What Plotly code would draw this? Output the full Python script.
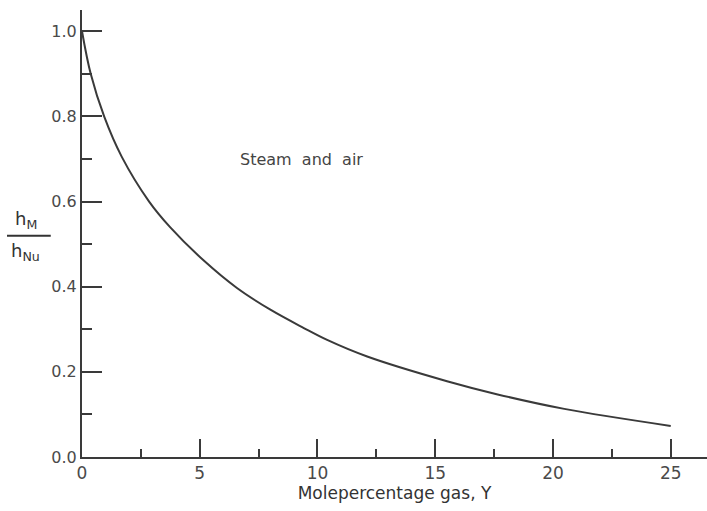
import plotly.graph_objects as go

# Data
mole_pct = [0, 0.37, 0.94, 1.69, 2.85, 3.74, 5.16, 6.58, 8.0, 9.42, 10.41, 12.11, 15.5, 17.65, 20.48, 25]
h_ratio = [1.0, 0.90, 0.80, 0.705, 0.60, 0.540, 0.462, 0.397, 0.346, 0.303, 0.275, 0.236, 0.178, 0.147, 0.113, 0.073]

x_ticks = [0, 5, 10, 15, 20, 25]
y_ticks = [0.0, 0.2, 0.4, 0.6, 0.8, 1.0]
y_labels = ["0.0", "0.2", "0.4", "0.6", "0.8", "1.0"]

ink = "#3a3a3a"
font = dict(family="DejaVu Sans", size=16, color="#4a4a4a")

fig = go.Figure()
fig.add_trace(go.Scatter(
    x=mole_pct, y=h_ratio, mode="lines",
    line=dict(color=ink, width=2, shape="spline", smoothing=1.0),
    showlegend=False, hoverinfo="skip",
))

fig.update_layout(
    width=707, height=511,
    margin=dict(l=82, r=0, t=10, b=54),
    paper_bgcolor="white", plot_bgcolor="white",
    font=font,
    xaxis=dict(
        range=[0, 26.54], showgrid=False, zeroline=False,
        showline=True, linecolor=ink, linewidth=2,
        tickvals=x_ticks, ticks="inside", ticklen=18, tickwidth=2, tickcolor=ink,
        minor=dict(dtick=2.5, tick0=0, ticks="inside", ticklen=8, tickwidth=2, tickcolor=ink),
        tickfont=dict(size=17, color="#4a4a4a"),
        title=dict(text="Molepercentage gas, Y", font=dict(size=17, color="#333"), standoff=4),
    ),
    yaxis=dict(
        range=[0, 1.05], showgrid=False, zeroline=False,
        showline=True, linecolor=ink, linewidth=2,
        tickvals=y_ticks, ticktext=y_labels,
        ticks="inside", ticklen=20, tickwidth=2, tickcolor=ink,
        minor=dict(dtick=0.1, tick0=0, ticks="inside", ticklen=10, tickwidth=2, tickcolor=ink),
        tickfont=dict(size=16, color="#4a4a4a"),
    ),
)

fig.add_annotation(x=9.3, y=0.70, xref="x", yref="y", text="Steam  and  air",
                   showarrow=False, font=dict(size=16, color="#444"))

# y-axis label as fraction h_M / h_Nu
fig.add_annotation(xref="paper", yref="paper", x=-0.09, y=0.50, xanchor="center", yanchor="bottom",
                   text="h<sub>M</sub>", showarrow=False, font=dict(size=18, color="#333"))
fig.add_annotation(xref="paper", yref="paper", x=-0.09, y=0.49, xanchor="center", yanchor="top",
                   text="h<sub>Nu</sub>", showarrow=False, font=dict(size=18, color="#333"))
fig.add_shape(type="line", xref="paper", yref="paper", x0=-0.12, x1=-0.05, y0=0.495, y1=0.495,
              line=dict(color="#333", width=2))

fig.write_html("out.html")
